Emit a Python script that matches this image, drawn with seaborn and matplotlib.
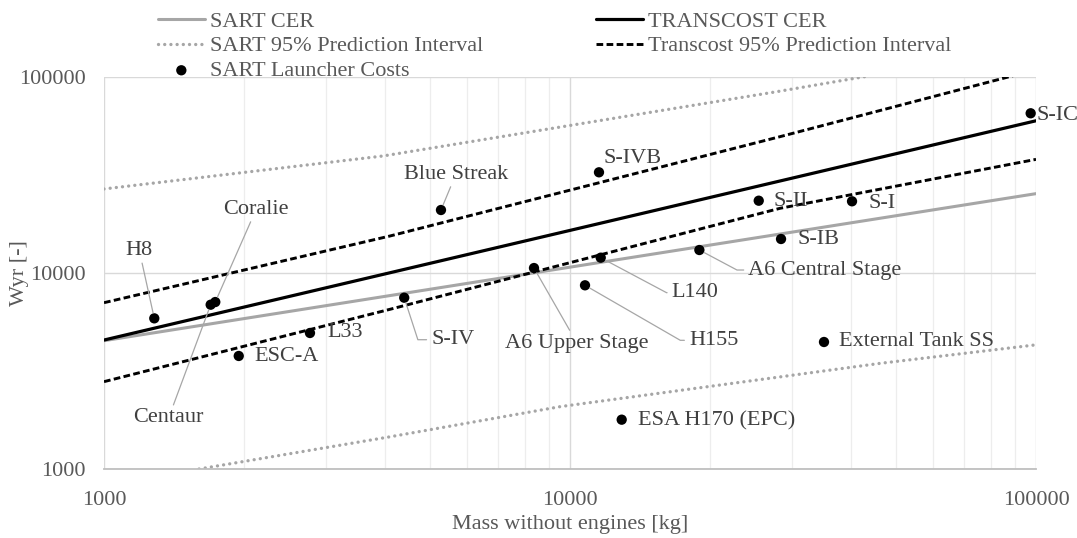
import numpy as np
import pandas as pd
import matplotlib
matplotlib.use("Agg")
import matplotlib.pyplot as plt
from matplotlib.ticker import FixedLocator, FuncFormatter, NullFormatter
import seaborn as sns

sns.set_style("white")
plt.rcParams["font.family"] = ["Liberation Serif", "DejaVu Serif"]

# CER lines (straight in log-log)
sart_cer_x = [1000, 100000]
sart_cer_y = [4515, 25400]
transcost_cer_x = [1000, 100000]
transcost_cer_y = [4550, 59800]

# prediction intervals
sart_pi_up_x = [1000, 3970, 27770, 44040]
sart_pi_up_y = [26840, 39540, 84140, 101500]
sart_pi_lo_x = [1600, 4110, 9520, 46300, 100000]
sart_pi_lo_y = [1000, 1460, 2080, 3460, 4300]
tc_pi_up_x = [1000, 4111, 28220, 89250]
tc_pi_up_y = [7055, 15450, 49600, 101500]
tc_pi_lo_x = [1000, 4111, 28220, 100000]
tc_pi_lo_y = [2790, 6530, 21380, 38000]

# launcher stages
names = ["H8", "Centaur", "Coralie", "ESC-A", "L33", "S-IV", "Blue Streak",
         "A6 Upper Stage", "H155", "L140", "S-IVB", "ESA H170 (EPC)",
         "A6 Central Stage", "S-II", "S-IB", "External Tank SS", "S-I", "S-IC"]
mass = [1282, 1694, 1733, 1946, 2767, 4408, 5286, 8370, 10770, 11640, 11540,
        12910, 18950, 25410, 28370, 35080, 40290, 97400]
wyr = [5870, 6890, 7110, 3773, 4942, 7480, 20960, 10600, 8654, 11970, 32640,
       1785, 13100, 23380, 14910, 4446, 23220, 65300]

# label placement: offset in pixels, horizontal alignment, leader ("line", angle or None)
label_pos = {
    "H8": (-15, 68, "center", "line"),
    "Centaur": (-42, -113, "center", "line"),
    "Coralie": (41, 93, "center", "line"),
    "ESC-A": (16, -1, "left", None),
    "L33": (17, 0, "left", None),
    "S-IV": (27, -42, "left", -72),
    "Blue Streak": (15, 36, "center", "line"),
    "A6 Upper Stage": (43, -75, "center", "line"),
    "H155": (104, -55, "left", -30),
    "L140": (71, -35, "left", -28),
    "S-IVB": (5, 14, "left", None),
    "ESA H170 (EPC)": (16, -1, "left", None),
    "A6 Central Stage": (49, -20, "left", -28),
    "S-II": (15, -1, "left", None),
    "S-IB": (16, -1, "left", None),
    "External Tank SS": (15, 0, "left", None),
    "S-I": (16, -2, "left", None),
    "S-IC": (6, -2, "left", None),
}

gray = "#A6A6A6"
txt = "#595959"
fs = 16

fig = plt.figure(figsize=(10.77, 5.38), dpi=100)
ax = fig.add_axes([104 / 1077, 1 - 469 / 538, 932 / 1077, 392 / 538])
ax.set_xscale("log")
ax.set_yscale("log")

dotted = (0, (0.01, 1.85))
dashed = (0, (2.3, 1.15))

sns.lineplot(x=sart_cer_x, y=sart_cer_y, ax=ax, color=gray, lw=2.2,
             label="SART CER", sort=False)
sns.lineplot(x=sart_pi_up_x, y=sart_pi_up_y, ax=ax, color=gray, lw=2.4,
             linestyle=dotted, dash_capstyle="round",
             label="SART 95% Prediction Interval", sort=False)
sns.lineplot(x=sart_pi_lo_x, y=sart_pi_lo_y, ax=ax, color=gray, lw=2.4,
             linestyle=dotted, dash_capstyle="round", sort=False)
sns.lineplot(x=transcost_cer_x, y=transcost_cer_y, ax=ax, color="black", lw=2.3,
             label="TRANSCOST CER", sort=False)
sns.lineplot(x=tc_pi_up_x, y=tc_pi_up_y, ax=ax, color="black", lw=2.1,
             linestyle=dashed, label="Transcost 95% Prediction Interval", sort=False)
sns.lineplot(x=tc_pi_lo_x, y=tc_pi_lo_y, ax=ax, color="black", lw=2.1,
             linestyle=dashed, sort=False)

pts = pd.DataFrame({"mass": mass, "wyr": wyr, "name": names})
sns.scatterplot(data=pts, x="mass", y="wyr", ax=ax, color="black", s=55,
                edgecolor="none", label="SART Launcher Costs", zorder=5)

for n, x, y in zip(names, mass, wyr):
    dx, dy, ha, lead = label_pos[n]
    kw = {}
    if lead == "line":
        kw["arrowprops"] = dict(arrowstyle="-", color=gray, lw=0.9,
                                shrinkA=0, shrinkB=4)
    elif lead is not None:
        kw["arrowprops"] = dict(arrowstyle="-", color=gray, lw=0.9,
                                shrinkA=1, shrinkB=4, relpos=(0, 0.5),
                                connectionstyle=f"angle,angleA=0,angleB={lead},rad=0")
    ax.annotate(n, (x, y), xytext=(dx, dy), textcoords="offset pixels",
                ha=ha, va="center", fontsize=fs, color="#404040", zorder=6, **kw)

ax.set_xlim(1000, 100000)
ax.set_ylim(1000, 100000)
ax.xaxis.set_major_locator(FixedLocator([1000, 10000, 100000]))
ax.yaxis.set_major_locator(FixedLocator([1000, 10000, 100000]))
ax.xaxis.set_minor_locator(FixedLocator([m * 10 ** e for e in (3, 4) for m in range(2, 10)]))
ax.yaxis.set_minor_locator(FixedLocator([]))
fmt = FuncFormatter(lambda v, _: f"{v:.0f}")
ax.xaxis.set_major_formatter(fmt)
ax.yaxis.set_major_formatter(fmt)
ax.xaxis.set_minor_formatter(NullFormatter())

ax.grid(True, which="major", color="#D9D9D9", lw=1.0)
ax.grid(True, which="minor", axis="x", color="#EDEDED", lw=0.9)
ax.set_axisbelow(True)
for s in ["top", "right", "left"]:
    ax.spines[s].set_visible(False)
ax.spines["bottom"].set_color("#BFBFBF")
ax.spines["bottom"].set_linewidth(1.3)
ax.tick_params(axis="both", which="both", length=0, labelsize=fs, labelcolor=txt)
ax.tick_params(axis="x", pad=16)
ax.tick_params(axis="y", pad=13)

ax.set_xlabel("Mass without engines [kg]", fontsize=fs, color=txt)
ax.set_ylabel("Wyr [-]", fontsize=fs, color=txt)
ax.xaxis.set_label_coords(0.5, -0.117)
ax.yaxis.set_label_coords(-0.08, 0.5)

handles, labels = ax.get_legend_handles_labels()
order = ["SART CER", "SART 95% Prediction Interval", "SART Launcher Costs",
         "TRANSCOST CER", "Transcost 95% Prediction Interval"]
hmap = dict(zip(labels, handles))
leg = fig.legend([hmap[l] for l in order], order, loc="upper left",
                 bbox_to_anchor=(158 / 1077, 1 - 11 / 538), ncol=2, frameon=False,
                 fontsize=fs, labelcolor=txt, handlelength=2.1, handletextpad=0.22,
                 labelspacing=0.19, columnspacing=5.1, borderpad=0, borderaxespad=0)
if ax.legend_:
    ax.legend_.remove()

fig.savefig("out.png", dpi=100)
